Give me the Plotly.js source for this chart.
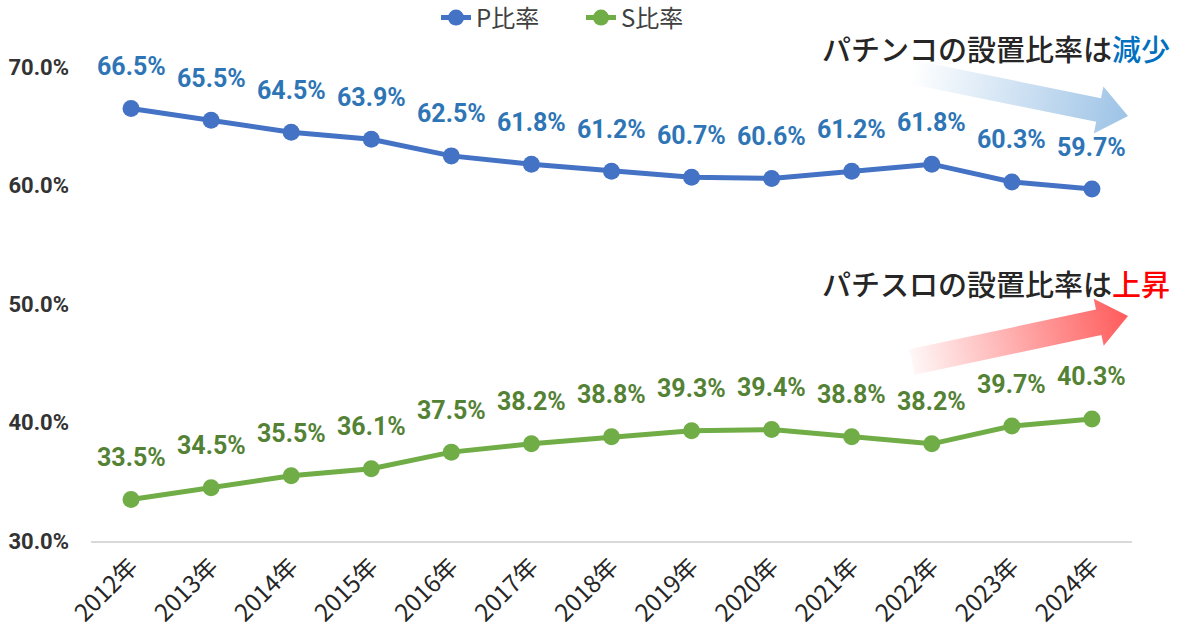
<!DOCTYPE html>
<html>
<head>
<meta charset="utf-8">
<script src="https://cdn.plot.ly/plotly-3.0.1.min.js"></script>
<style>
html,body{margin:0;padding:0;background:#fff;}
#chart{width:1177px;height:629px;}
</style>
</head>
<body>
<div id="chart"></div>
<script>
// ---- data ----
const years = ['2012年','2013年','2014年','2015年','2016年','2017年','2018年','2019年','2020年','2021年','2022年','2023年','2024年'];
const pRatio = [66.5, 65.5, 64.5, 63.9, 62.5, 61.8, 61.2, 60.7, 60.6, 61.2, 61.8, 60.3, 59.7];
const sRatio = [33.5, 34.5, 35.5, 36.1, 37.5, 38.2, 38.8, 39.3, 39.4, 38.8, 38.2, 39.7, 40.3];
const seriesNames = ['P比率', 'S比率'];
const yTicks = [30, 40, 50, 60, 70];
const yTickText = ['30.0%', '40.0%', '50.0%', '60.0%', '70.0%'];
const noteP = 'パチンコの設置比率は<span style="color:#0070C0">減少</span>';
const noteS = 'パチスロの設置比率は<span style="color:#FF0000">上昇</span>';

// ---- layout geometry ----
const W = 1177, H = 629;
const M = {l: 91, r: 45, t: 67, b: 88, autoexpand: false};
const PW = W - M.l - M.r, PH = H - M.t - M.b;
const px = x => (x - M.l) / PW;          // page px -> paper x
const py = y => 1 - (y - M.t) / PH;      // page px -> paper y

const FONT = 'Roboto, "Noto Sans CJK JP", sans-serif';
const JFONT = '"Noto Sans CJK JP", "Noto Sans", sans-serif';
const blueLine = '#4472C4', greenLine = '#70AD47';
const blueText = '#2E75B6', greenText = '#548235';

// gradient arrows (decoration) as an SVG image
function arrowPts(tail, tip, bodyHW, headHW, headLen) {
  const dx = tip[0] - tail[0], dy = tip[1] - tail[1];
  const L = Math.hypot(dx, dy);
  const u = [dx / L, dy / L], n = [-u[1], u[0]];
  const neck = [tip[0] - u[0] * headLen, tip[1] - u[1] * headLen];
  const p = (b, s) => [(b[0] + n[0] * s).toFixed(1), (b[1] + n[1] * s).toFixed(1)].join(',');
  return [p(tail, -bodyHW), p(neck, -bodyHW), p(neck, -headHW), tip.join(','),
          p(neck, headHW), p(neck, bodyHW), p(tail, bodyHW)].join(' ');
}
const aB = {tail: [912, 72], tip: [1128, 116]};
const aR = {tail: [912, 362], tip: [1128, 316]};
const svg =
  '<svg xmlns="http://www.w3.org/2000/svg" width="' + W + '" height="' + H + '" viewBox="0 0 ' + W + ' ' + H + '">' +
  '<defs>' +
  '<linearGradient id="gb" gradientUnits="userSpaceOnUse" x1="' + aB.tail[0] + '" y1="' + aB.tail[1] + '" x2="' + aB.tip[0] + '" y2="' + aB.tip[1] + '">' +
  '<stop offset="0" stop-color="#9DC3E6" stop-opacity="0"/><stop offset="1" stop-color="#9DC3E6" stop-opacity="1"/></linearGradient>' +
  '<linearGradient id="gr" gradientUnits="userSpaceOnUse" x1="' + aR.tail[0] + '" y1="' + aR.tail[1] + '" x2="' + aR.tip[0] + '" y2="' + aR.tip[1] + '">' +
  '<stop offset="0" stop-color="#FF5B5B" stop-opacity="0.05"/><stop offset="1" stop-color="#FF5B5B" stop-opacity="1"/></linearGradient>' +
  '</defs>' +
  '<polygon points="' + arrowPts(aB.tail, aB.tip, 12, 24, 30) + '" fill="url(#gb)"/>' +
  '<polygon points="' + arrowPts(aR.tail, aR.tip, 13, 24, 30) + '" fill="url(#gr)"/>' +
  '</svg>';
const svgURI = 'data:image/svg+xml;charset=utf-8,' + encodeURIComponent(svg);

// traces
const traces = [
  {x: years, y: pRatio, name: seriesNames[0], type: 'scatter', mode: 'lines+markers',
   line: {color: blueLine, width: 5}, marker: {color: blueLine, size: 17}, cliponaxis: false,
   hoverinfo: 'skip'},
  {x: years, y: sRatio, name: seriesNames[1], type: 'scatter', mode: 'lines+markers',
   line: {color: greenLine, width: 5}, marker: {color: greenLine, size: 17}, cliponaxis: false,
   hoverinfo: 'skip'}
];

// data labels
const annotations = [];
years.forEach((yr, i) => {
  annotations.push({x: yr, y: pRatio[i], xref: 'x', yref: 'y', text: pRatio[i].toFixed(1) + '%',
    showarrow: false, yshift: 42, font: {family: FONT, size: 25, color: blueText, weight: 'bold'}});
  annotations.push({x: yr, y: sRatio[i], xref: 'x', yref: 'y', text: sRatio[i].toFixed(1) + '%',
    showarrow: false, yshift: 42, font: {family: FONT, size: 25, color: greenText, weight: 'bold'}});
});
annotations.push({xref: 'paper', yref: 'paper', x: px(1172), y: py(48), xanchor: 'right', yanchor: 'middle',
  text: noteP, showarrow: false, font: {family: JFONT, size: 29, color: '#262626', weight: 500}});
annotations.push({xref: 'paper', yref: 'paper', x: px(1172), y: py(283), xanchor: 'right', yanchor: 'middle',
  text: noteS, showarrow: false, font: {family: JFONT, size: 29, color: '#262626', weight: 500}});

const layout = {
  width: W, height: H,
  margin: M,
  paper_bgcolor: '#ffffff',
  plot_bgcolor: 'rgba(0,0,0,0)',
  showlegend: true,
  legend: {orientation: 'h', x: px(581), xanchor: 'center', y: py(18), yanchor: 'middle',
    font: {family: JFONT, size: 24, color: '#404040'}, entrywidth: 100, entrywidthmode: 'pixels'},
  xaxis: {type: 'category', range: [-0.5, years.length - 0.5], showgrid: false, zeroline: false,
    showline: true, linecolor: '#D9D9D9', linewidth: 2,
    ticks: '', tickangle: -45, tickfont: {family: JFONT, size: 24, color: '#262626'}, fixedrange: true},
  yaxis: {range: [30, 70], tickvals: yTicks, ticktext: yTickText, showgrid: false, zeroline: false,
    showline: false, ticks: '', ticklabelstandoff: 21,
    tickfont: {family: FONT, size: 22, color: '#333333', weight: 'bold'}, fixedrange: true},
  annotations: annotations,
  images: [{source: svgURI, xref: 'paper', yref: 'paper', x: px(0), y: py(0), sizex: W / PW, sizey: H / PH,
    xanchor: 'left', yanchor: 'top', sizing: 'stretch', layer: 'below'}]
};

Plotly.newPlot('chart', traces, layout, {displayModeBar: false, staticPlot: true});
</script>
</body>
</html>
